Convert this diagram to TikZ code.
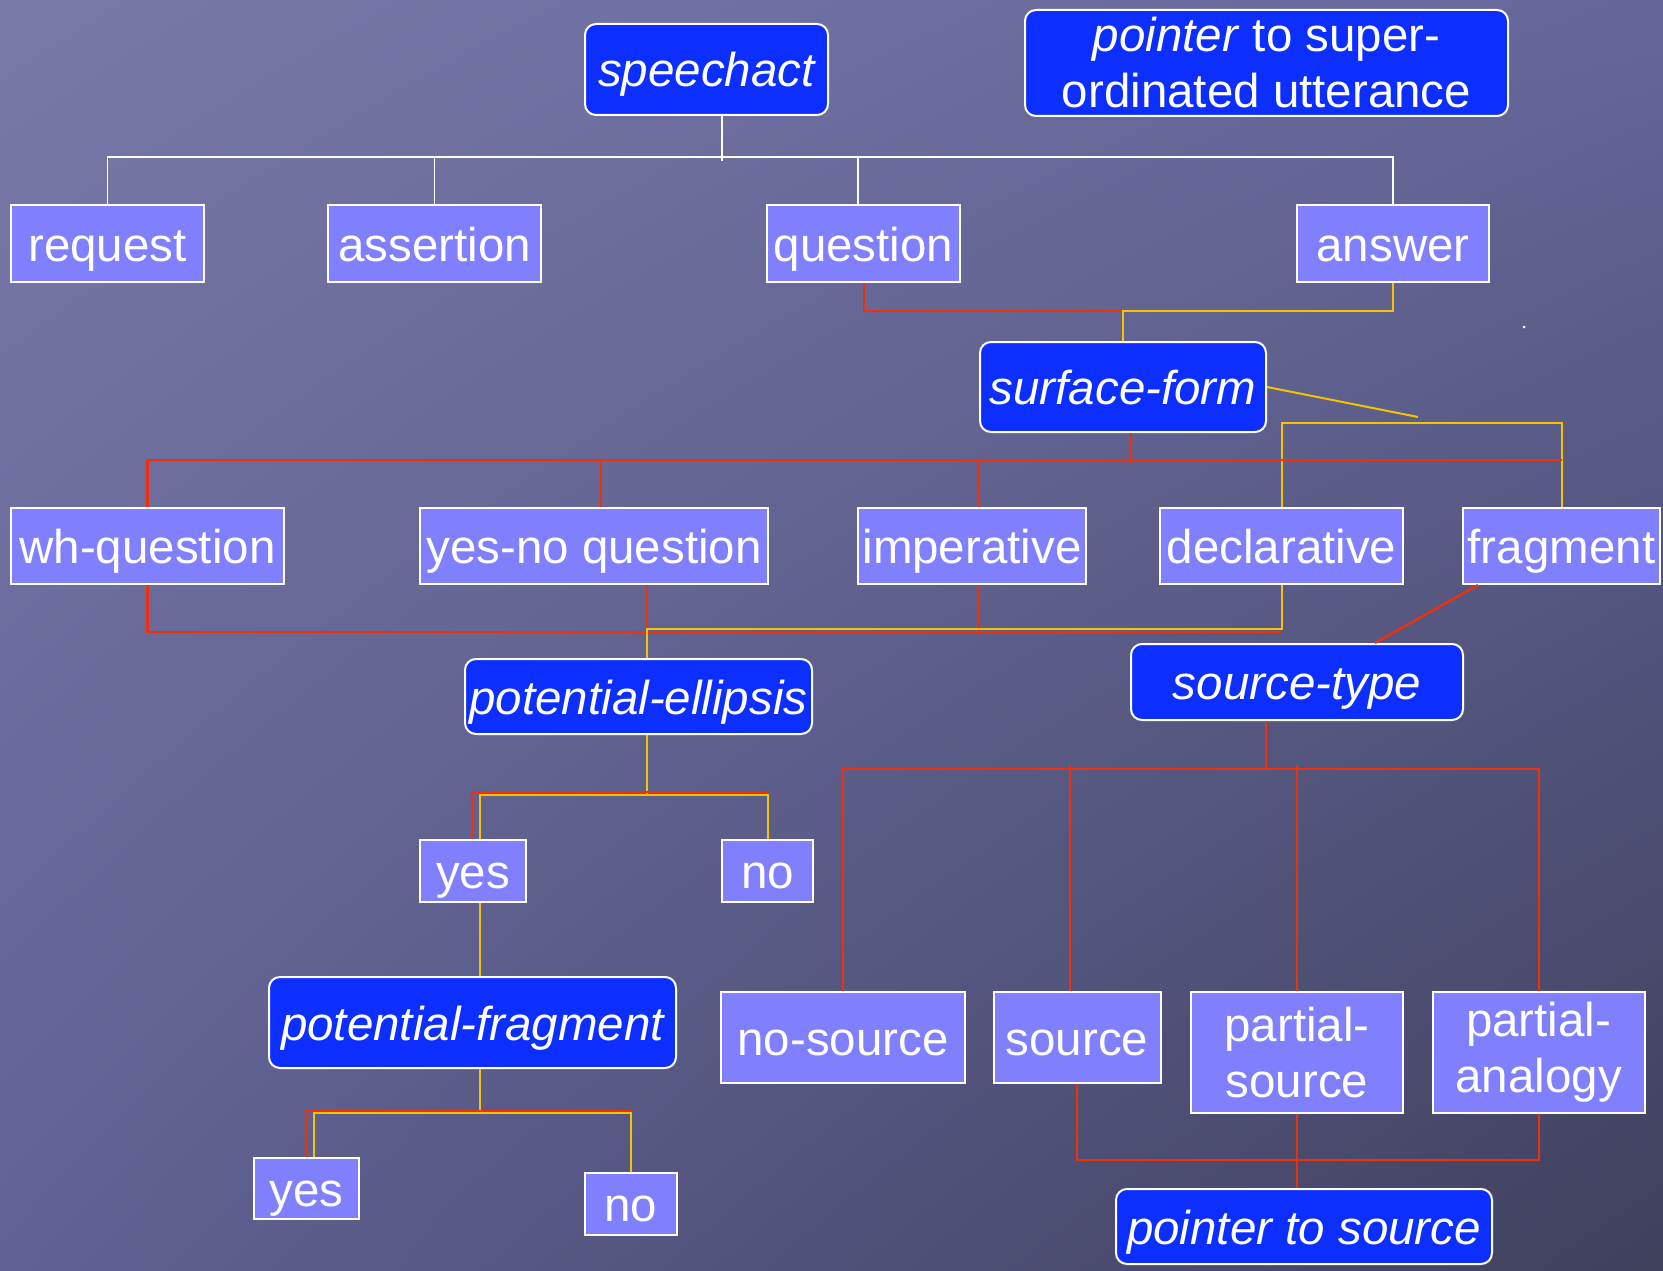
\documentclass[tikz,border=0pt]{standalone}
\usepackage{fontspec}
\setmainfont{Liberation Sans}
\usetikzlibrary{shadings}
\begin{document}
\definecolor{bgTL}{HTML}{7879A8}
\definecolor{bgTR}{HTML}{65669A}
\definecolor{bgBL}{HTML}{606294}
\definecolor{bgBR}{HTML}{3F405C}
\definecolor{lightbox}{HTML}{8080FF}
\definecolor{darkbox}{HTML}{0C2EFF}
\definecolor{redline}{HTML}{F0300A}
\definecolor{yelline}{HTML}{F5C400}
\begin{tikzpicture}[x=1pt,y=-1pt,
  every node/.style={font=\fontsize{47.5}{56}\selectfont, text=white, inner sep=0pt, align=center},
  lboxbase/.style={draw=white, line width=2pt, fill=lightbox},
  dboxbase/.style={draw=white, line width=2pt, fill=darkbox, rounded corners=11pt, font=\fontsize{47.5}{56}\selectfont\itshape},
  oneline/.style={text height=40pt, text depth=5pt},
  lbox/.style={lboxbase, oneline},
  dbox/.style={dboxbase, oneline},
  wline/.style={draw=white, line width=1.6pt},
  rline/.style={draw=redline, line width=2.3pt},
  yline/.style={draw=yelline, line width=2pt}]
\useasboundingbox (0,0) rectangle (1663,1271);
\shade[upper left=bgTL, upper right=bgTR, lower left=bgBL, lower right=bgBR] (0,0) rectangle (1663,1271);
\fill[white] (1524,327) circle (1.5);

% nodes
\node[dbox, minimum width=243, minimum height=91] (speechact) at (706.5,69.5) {speechact};
\node[dboxbase, minimum width=483, minimum height=106, font=\fontsize{47.5}{56}\selectfont] (sup) at (1266.5,63) {\textit{pointer} to super-\\ordinated utterance};
\node[lbox, minimum width=193, minimum height=77] (request) at (107.5,243.5) {request};
\node[lbox, minimum width=213, minimum height=77] (assertion) at (434.5,243.5) {assertion};
\node[lbox, minimum width=193, minimum height=77] (question) at (863.5,243.5) {question};
\node[lbox, minimum width=192, minimum height=77] (answer) at (1393,243.5) {answer};
\node[dbox, minimum width=286, minimum height=90] (surfaceform) at (1123,387) {surface-form};
\node[lbox, minimum width=273, minimum height=76] (whq) at (147.5,546) {wh-question};
\node[lbox, minimum width=348, minimum height=76] (yesno) at (594,546) {yes-no question};
\node[lbox, minimum width=228, minimum height=76] (imperative) at (972,546) {imperative};
\node[lbox, minimum width=243, minimum height=76] (declarative) at (1281.5,546) {declarative};
\node[lbox, minimum width=197, minimum height=76] (fragment) at (1561.5,546) {fragment};
\node[dbox, minimum width=347, minimum height=75] (pe) at (638.5,696.5) {potential-ellipsis};
\node[dbox, minimum width=332, minimum height=76] (st) at (1297,682) {source-type};
\node[lbox, minimum width=106, minimum height=62] (yes1) at (473,871) {yes};
\node[lbox, minimum width=91, minimum height=62] (no1) at (767.5,871) {no};
\node[dbox, minimum width=407, minimum height=91] (pf) at (472.5,1022.5) {potential-fragment};
\node[lbox, minimum width=243.5, minimum height=91] (nosrc) at (843,1037.5) {no-source};
\node[lbox, minimum width=167, minimum height=91] (source) at (1077,1037.5) {source};
\node[lboxbase, minimum width=212, minimum height=121] (ps) at (1297,1052.5) {partial-\\source};
\node[lboxbase, minimum width=212, minimum height=121] (pa) at (1538.7,1052.5) {partial-\\analogy};
\node[lbox, minimum width=105, minimum height=61] (yes2) at (306.5,1188.5) {yes};
\node[lbox, minimum width=91.5, minimum height=62] (no2) at (631,1204) {no};
\node[dbox, minimum width=376, minimum height=75] (pts) at (1304,1226.5) {pointer to source};

% bus levels
\coordinate (wb) at (0,157);
\coordinate (b1) at (0,311);
\coordinate (yt) at (0,423);
\coordinate (rb) at (0,460);
\coordinate (yb2) at (0,629);
\coordinate (rb2) at (0,632);
\coordinate (sb) at (0,769);
\coordinate (eb) at (0,792);
\coordinate (ey) at (0,795);
\coordinate (fb) at (0,1111);
\coordinate (fy) at (0,1113);
\coordinate (pb) at (0,1160);

% white tree
\coordinate (sn) at ([xshift=15.5pt]speechact.south);
\coordinate (qn) at ([xshift=-5.5pt]question.north);
\draw[wline] (request.north) -- (request.north |- wb) -- (answer.north |- wb) -- (answer.north);
\draw[wline] (assertion.north) -- (assertion.north |- wb);
\draw[wline] (qn) -- (qn |- wb);
\draw[wline] (sn) -- (sn |- wb) -- ++(0,4);

% question/answer -> surface-form
\coordinate (qs) at ([xshift=0.5pt]question.south);
\draw[rline] (qs) |- (surfaceform.north |- b1);
\draw[yline] (answer.south) |- (surfaceform.north |- b1) -- (surfaceform.north);

% surface-form -> children
\coordinate (yd) at (1418,417);
\draw[yline] (surfaceform.east) -- (yd);
\draw[yline] (declarative.north) |- (fragment.north |- yt) -- (fragment.north);
\coordinate (ynn) at ([xshift=7pt]yesno.north);
\coordinate (imn) at ([xshift=6.6pt]imperative.north);
\coordinate (sfs) at ([xshift=7.5pt]surfaceform.south);
\draw[rline] (whq.north) |- (fragment.north |- rb);
\draw[rline] (ynn) -- (ynn |- rb);
\draw[rline] (imn) -- (imn |- rb);
\draw[rline] (sfs) -- (sfs |- rb) -- ++(0,3);

% children -> potential-ellipsis
\coordinate (yns) at ([xshift=53pt]yesno.south);
\coordinate (ims) at ([xshift=6.6pt]imperative.south);
\draw[rline] (whq.south) |- (declarative.south |- rb2);
\draw[rline] (yns) -- (yns |- rb2);
\draw[rline] (ims) -- (ims |- rb2);
\draw[yline] (declarative.south) |- (yns |- yb2) -- (pe.north -| yns);

% potential-ellipsis -> yes / no
\coordinate (pes) at (pe.south -| yns);
\draw[yline] (pes) -- (pes |- ey);
\coordinate (y1r) at ([xshift=-1pt]yes1.north);
\coordinate (y1y) at ([xshift=7pt]yes1.north);
\draw[rline] (y1r) |- (no1.north |- eb);
\draw[yline] (y1y) |- (no1.north |- ey) -- (no1.north);

% yes -> potential-fragment -> yes / no
\draw[yline] (yes1.south -| y1y) -- (pf.north -| y1y);
\draw[yline] (pf.south -| y1y) -- (y1y |- fy);
\coordinate (y2y) at ([xshift=7.5pt]yes2.north);
\draw[rline] (yes2.north) |- (no2.north |- fb);
\draw[yline] (y2y) |- (no2.north |- fy) -- (no2.north);

% fragment -> source-type -> children
\coordinate (frs) at ([xshift=-83.5pt]fragment.south);
\coordinate (stn) at ([xshift=78pt]st.north);
\draw[rline] (frs) -- (stn);
\coordinate (sts) at ([xshift=-31pt]st.south);
\draw[rline] (sts) -- (sts |- sb);
\coordinate (srn) at ([xshift=-7pt]source.north);
\draw[rline] (nosrc.north) |- (pa.north |- sb) -- (pa.north);
\draw[rline] (srn) -- (srn |- sb) -- ++(0,-4);
\draw[rline] (ps.north) -- (ps.north |- sb) -- ++(0,-4);

% -> pointer to source
\draw[rline] (source.south) |- (pa.south |- pb) -- (pa.south);
\draw[rline] (ps.south) -- (ps.south |- pts.north);
\end{tikzpicture}
\end{document}
